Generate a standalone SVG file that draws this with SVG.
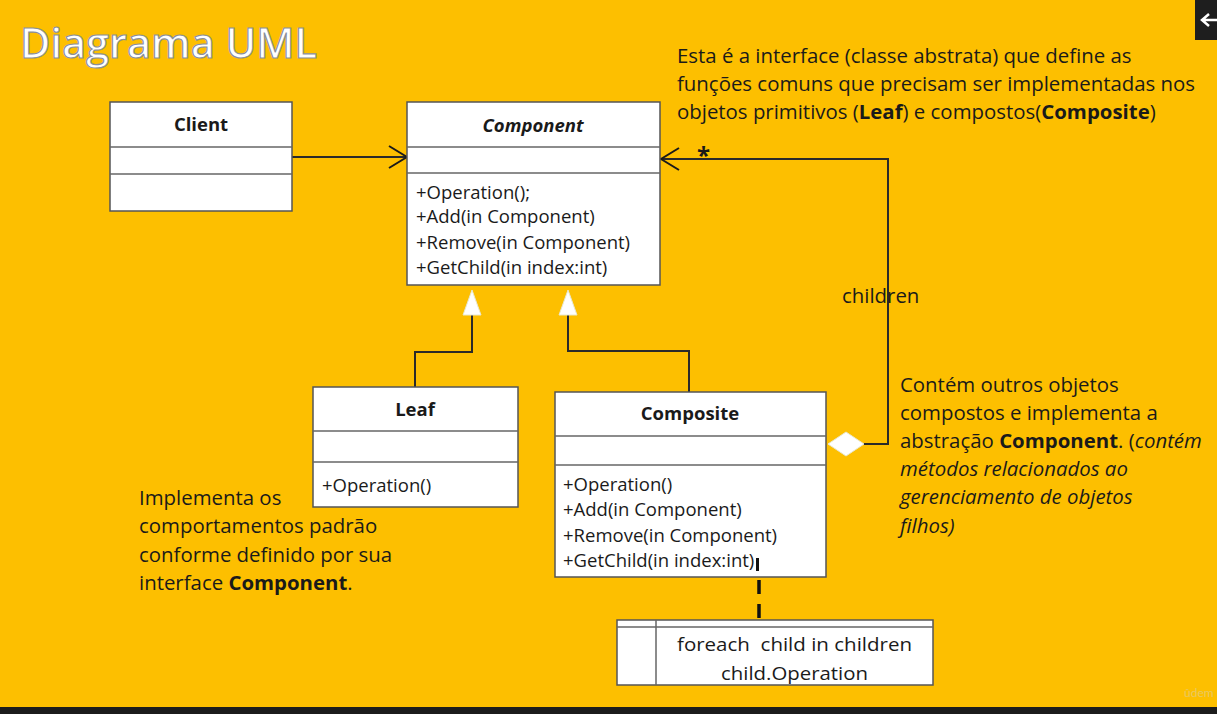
<svg xmlns="http://www.w3.org/2000/svg" width="1217" height="714" viewBox="0 0 1217 714">
<style>
.box{fill:#fff;stroke:#555;stroke-width:1.5}
.div{stroke:#666;stroke-width:1.5}
.t{font-family:"Open Sans",Lato,sans-serif;fill:#1a1a1a;font-size:18.5px}
.h{font-weight:bold;text-anchor:middle}
.n{font-family:"Open Sans",Lato,sans-serif;fill:#1a1a1a;font-size:20.4px}
.ln{fill:none;stroke:#2a2a2a;stroke-width:2}
</style>
<defs>
<marker id="open" viewBox="0 0 20 24" refX="19" refY="12" markerWidth="20" markerHeight="24" markerUnits="userSpaceOnUse" orient="auto">
<path d="M1,1 L19,12 L1,23" fill="none" stroke="#1a1a1a" stroke-width="2"/>
</marker>
</defs>
<rect width="1217" height="714" fill="#FDBF00"/>
<rect x="0" y="707" width="1217" height="7" fill="#1c1c1c"/>
<rect x="1195" y="0" width="22" height="40" fill="#1e1e1e"/>
<path d="M1209,14 L1202,20 L1209,26 M1203,20 L1217,20" fill="none" stroke="#fff" stroke-width="2.5"/>
<text x="1184" y="697" font-family="Lato,sans-serif" font-size="12" fill="#e8c860">ûdem</text>

<text x="20" y="58" font-family="'Open Sans',Lato,sans-serif" font-size="41.5" fill="#fff" stroke="#8a8f9a" stroke-width="1.2" font-weight="600">Diagrama UML</text>

<g id="connectors">
<line x1="292" y1="157" x2="407" y2="157" class="ln" marker-end="url(#open)"/>
<path d="M415,387 V352 H472 V314" class="ln"/>
<path d="M689,392 V351 H568 V314" class="ln"/>
<polygon points="472,290 463,315 481,315" fill="#fff" stroke="#e8e8d0" stroke-width="1"/>
<polygon points="568,290 559,315 577,315" fill="#fff" stroke="#e8e8d0" stroke-width="1"/>
<path d="M863,444 H888 V159 H661" class="ln" marker-end="url(#open)"/>
<polygon points="828,444 846,432 864,444 846,456" fill="#fff" stroke="#e8e8d0" stroke-width="1"/>
<text x="697" y="164" font-family="'Open Sans',sans-serif" font-size="24" font-weight="bold" fill="#1a1a1a">*</text>
<text x="842" y="303" class="n" font-size="19.5">children</text>
<line x1="759" y1="556" x2="759" y2="620" stroke="#111" stroke-width="3.5" stroke-dasharray="14,10"/>
</g>

<g id="client">
<rect x="110" y="102" width="182" height="109" class="box"/>
<line x1="110" y1="147" x2="292" y2="147" class="div"/>
<line x1="110" y1="174" x2="292" y2="174" class="div"/>
<text x="201" y="131" class="t h" font-size="17.5">Client</text>
</g>

<g id="component">
<rect x="407" y="102" width="253" height="183" class="box"/>
<line x1="407" y1="147" x2="660" y2="147" class="div"/>
<line x1="407" y1="173" x2="660" y2="173" class="div"/>
<text x="533" y="132" class="t h" font-style="italic">Component</text>
<text x="416" y="199" class="t">+Operation();</text>
<text x="416" y="223" class="t">+Add(in Component)</text>
<text x="416" y="249" class="t">+Remove(in Component)</text>
<text x="416" y="274" class="t">+GetChild(in index:int)</text>
</g>

<g id="leaf">
<rect x="313" y="387" width="205" height="120" class="box"/>
<line x1="313" y1="431" x2="518" y2="431" class="div"/>
<line x1="313" y1="462" x2="518" y2="462" class="div" stroke="#8a7a60"/>
<text x="415" y="416" class="t h" font-size="17.5">Leaf</text>
<text x="322" y="492" class="t">+Operation()</text>
</g>

<g id="composite">
<rect x="555" y="392" width="271" height="185" class="box"/>
<line x1="555" y1="436" x2="826" y2="436" class="div"/>
<line x1="555" y1="465" x2="826" y2="465" class="div"/>
<text x="690" y="420" class="t h" font-size="17.8">Composite</text>
<text x="563" y="491" class="t">+Operation()</text>
<text x="563" y="516" class="t">+Add(in Component)</text>
<text x="563" y="542" class="t">+Remove(in Component)</text>
<text x="563" y="567" class="t">+GetChild(in index:int)</text>
<rect x="756" y="558" width="3" height="13" fill="#111"/>
</g>

<g id="note">
<rect x="617" y="620" width="316" height="65" class="box"/>
<line x1="617" y1="627" x2="933" y2="627" class="div"/>
<line x1="656" y1="620" x2="656" y2="685" class="div"/>
<text x="677" y="651" class="t" font-size="22" textLength="235" lengthAdjust="spacingAndGlyphs" xml:space="preserve">foreach  child in children</text>
<text x="721" y="680" class="t" font-size="22" textLength="147" lengthAdjust="spacingAndGlyphs">child.Operation</text>
</g>

<g id="note-component">
<text x="677" y="63" class="n">Esta é a interface (classe abstrata) que define as</text>
<text x="677" y="91" class="n">funções comuns que precisam ser implementadas nos</text>
<text x="677" y="119" class="n">objetos primitivos (<tspan font-weight="bold">Leaf</tspan>) e compostos(<tspan font-weight="bold">Composite</tspan>)</text>
</g>

<g id="note-composite">
<text x="900" y="392" class="n">Contém outros objetos</text>
<text x="900" y="420" class="n">compostos e implementa a</text>
<text x="900" y="448" class="n">abstração <tspan font-weight="bold">Component</tspan>. (<tspan font-style="italic">contém</tspan></text>
<text x="900" y="476" class="n" font-style="italic">métodos relacionados ao</text>
<text x="900" y="504" class="n" font-style="italic">gerenciamento de objetos</text>
<text x="900" y="533" class="n" font-style="italic">filhos)</text>
</g>

<g id="note-leaf">
<text x="139" y="505" class="n">Implementa os</text>
<text x="139" y="533" class="n">comportamentos padrão</text>
<text x="139" y="562" class="n">conforme definido por sua</text>
<text x="139" y="590" class="n">interface <tspan font-weight="bold">Component</tspan>.</text>
</g>
</svg>
